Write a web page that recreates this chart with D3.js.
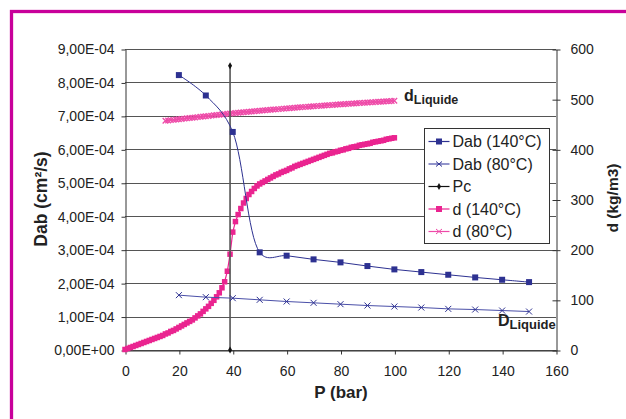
<!DOCTYPE html>
<html>
<head>
<meta charset="utf-8">
<script src="https://cdn.jsdelivr.net/npm/d3@7"></script>
<style>
  body { margin: 0; background: #fff; }
  svg { display: block; font-family: "Liberation Sans", Arial, sans-serif; }
  .axis text { font-size: 14px; fill: #222; }
  .axis path, .axis line { stroke: #333; }
</style>
</head>
<body>
<svg id="chart" width="626" height="419"></svg>
<script>
// pressure grid (bar) and values
var dabP = [20, 30, 40, 50, 60, 70, 80, 90, 100, 110, 120, 130, 140, 150]
var dab140 = [8.22e-4, 7.61e-4, 6.52e-4, 2.92e-4, 2.82e-4, 2.71e-4, 2.62e-4, 2.51e-4, 2.41e-4, 2.33e-4, 2.25e-4, 2.17e-4, 2.10e-4, 2.03e-4]
var dab80 = [1.64e-4, 1.58e-4, 1.55e-4, 1.50e-4, 1.45e-4, 1.41e-4, 1.37e-4, 1.33e-4, 1.30e-4, 1.27e-4, 1.23e-4, 1.21e-4, 1.18e-4, 1.15e-4]

var pcP = [39, 39]
var pcVal = [0, 8.5e-4]

var d140P = [0, 1, 2, 3, 4, 5, 6, 7, 8, 9, 10, 11, 12, 13, 14, 15, 16, 17, 18, 19, 20,
  21, 22, 23, 24, 25, 26, 27, 28, 29, 30, 31, 32, 33, 34, 35, 36, 37, 38, 39, 40,
  41, 42, 43, 44, 45, 46, 47, 48, 49, 50, 51, 52, 53, 54, 55, 56, 57, 58, 59, 60,
  61, 62, 63, 64, 65, 66, 67, 68, 69, 70, 71, 72, 73, 74, 75, 76, 77, 78, 79, 80,
  81, 82, 83, 84, 85, 86, 87, 88, 89, 90, 91, 92, 93, 94, 95, 96, 97, 98, 99, 100]
var d140 = [1, 3, 5, 7, 9, 11, 13, 15, 17, 19, 21, 23, 25, 27, 29, 32, 34, 37, 39, 42, 45,
  48, 51, 54, 57, 60, 64, 68, 72, 77, 82, 87, 93, 99, 106, 114, 124, 136, 157, 191, 235,
  256, 270, 282, 293, 302, 310, 316, 322, 327, 331, 334, 337, 340, 343, 346, 349, 351, 354, 356, 358,
  361, 363, 366, 368, 370, 372, 374, 376, 378, 380, 382, 384, 386, 388, 390, 392, 393, 395, 396, 398,
  399, 401, 402, 404, 405, 406, 408, 409, 410, 411, 412, 414, 415, 416, 417, 418, 420, 421, 422, 423]

var d80P = [15, 16, 17, 18, 19, 20, 21, 22, 23, 24, 25, 26, 27, 28, 29, 30, 31, 32, 33, 34, 35,
  36, 37, 38, 39, 40, 41, 42, 43, 44, 45, 46, 47, 48, 49, 50, 51, 52, 53, 54, 55,
  56, 57, 58, 59, 60, 61, 62, 63, 64, 65, 66, 67, 68, 69, 70, 71, 72, 73, 74, 75,
  76, 77, 78, 79, 80, 81, 82, 83, 84, 85, 86, 87, 88, 89, 90, 91, 92, 93, 94, 95,
  96, 97, 98, 99, 100]
var d80 = [457.0, 457.6, 458.2, 458.8, 459.4, 460.0, 460.6, 461.2, 461.8, 462.4, 463.0,
  463.6, 464.2, 464.8, 465.4, 466.0, 466.6, 467.2, 467.8, 468.4, 469.0,
  469.6, 470.2, 470.8, 471.4, 472.0, 472.5, 473.0, 473.5, 474.0, 474.5,
  475.0, 475.5, 476.0, 476.4, 476.9, 477.4, 477.9, 478.3, 478.8, 479.3,
  479.7, 480.2, 480.7, 481.1, 481.6, 482.0, 482.5, 482.9, 483.4, 483.8,
  484.2, 484.6, 485.0, 485.4, 485.8, 486.2, 486.6, 487.0, 487.4, 487.8,
  488.2, 488.5, 488.9, 489.3, 489.7, 490.0, 490.4, 490.8, 491.1, 491.5,
  491.9, 492.2, 492.6, 492.9, 493.3, 493.6, 494.0, 494.3, 494.7, 495.0,
  495.4, 495.7, 496.0, 496.4, 496.7]

var xTicks = [0, 20, 40, 60, 80, 100, 120, 140, 160]
var leftTicks = [0, 1e-4, 2e-4, 3e-4, 4e-4, 5e-4, 6e-4, 7e-4, 8e-4, 9e-4]
var rightTicks = [0, 100, 200, 300, 400, 500, 600]

var legendLabels = ["Dab (140°C)", "Dab (80°C)", "Pc", "d (140°C)", "d (80°C)"]

var navy = "#2d3191", pink = "#ea2490", pinkLight = "#ee4aa8", frameColor = "#c8009a"

var svg = d3.select("#chart")

// magenta frame, open on the right and bottom
svg.append("rect")
    .attr("x", 11.5).attr("y", 11.5)
    .attr("width", 800).attr("height", 600)
    .attr("fill", "none")
    .attr("stroke", frameColor)
    .attr("stroke-width", 3.3)

var x = d3.scaleLinear().domain([0, 160]).range([125, 556])
var yL = d3.scaleLinear().domain([0, 9e-4]).range([350, 49])
var yR = d3.scaleLinear().domain([0, 600]).range([350, 49])

function sciFmt(v) {
    var s = v.toExponential(2)            // "8.00e-4"
    var parts = s.split("e")
    var exp = parseInt(parts[1], 10)
    var sign = exp < 0 ? "-" : "+"
    var e = Math.abs(exp)
    return parts[0].replace(".", ",") + "E" + sign + (e < 10 ? "0" + e : e)
}

// gridlines at left axis ticks
svg.append("g")
    .selectAll("line")
    .data(leftTicks)
    .enter().append("line")
    .attr("x1", 125).attr("x2", 556)
    .attr("y1", function(d) { return Math.round(yL(d)) + 0.5 })
    .attr("y2", function(d) { return Math.round(yL(d)) + 0.5 })
    .attr("stroke", "#555")
    .attr("stroke-width", 1)

// axes
var gLeft = svg.append("g")
    .attr("class", "axis")
    .attr("transform", "translate(125.5,0.5)")
    .call(d3.axisLeft(yL).tickValues(leftTicks).tickFormat(sciFmt).tickSize(4).tickSizeOuter(0).tickPadding(7))

var gRight = svg.append("g")
    .attr("class", "axis")
    .attr("transform", "translate(556.5,0.5)")
    .call(d3.axisRight(yR).tickValues(rightTicks).tickSize(4).tickSizeOuter(0).tickPadding(10))
gRight.selectAll(".tick line").attr("x1", -4)

var gBottom = svg.append("g")
    .attr("class", "axis")
    .attr("transform", "translate(0.5,350.5)")
    .call(d3.axisBottom(x).tickValues(xTicks).tickSize(4).tickSizeOuter(0).tickPadding(12))

// axis titles
svg.append("text")
    .attr("x", 341).attr("y", 398)
    .attr("text-anchor", "middle")
    .style("font-size", "17px").style("font-weight", "bold").attr("fill", "#222")
    .text("P (bar)")

svg.append("text")
    .attr("transform", "translate(47,199) rotate(-90)")
    .attr("text-anchor", "middle")
    .style("font-size", "17.5px").style("font-weight", "bold").attr("fill", "#222")
    .text("Dab (cm²/s)")

svg.append("text")
    .attr("transform", "translate(618,198) rotate(-90)")
    .attr("text-anchor", "middle")
    .style("font-size", "15.5px").style("font-weight", "bold").attr("fill", "#222")
    .text("d (kg/m3)")

// series helpers
function rows(xs, ys) {
    return xs.map(function(p, i) { return [p, ys[i]] })
}
function squareMarkers(g, data, yScale, size, color) {
    g.selectAll(null).data(data).enter().append("rect")
        .attr("x", function(d) { return x(d[0]) - size / 2 })
        .attr("y", function(d) { return yScale(d[1]) - size / 2 })
        .attr("width", size).attr("height", size)
        .attr("fill", color)
}
function crossMarkers(g, data, yScale, size, color, width) {
    var h = size / 2
    g.selectAll(null).data(data).enter().append("path")
        .attr("d", function(d) {
            var cx = x(d[0]), cy = yScale(d[1])
            return "M" + (cx - h) + "," + (cy - h) + "L" + (cx + h) + "," + (cy + h) +
                   "M" + (cx - h) + "," + (cy + h) + "L" + (cx + h) + "," + (cy - h)
        })
        .attr("stroke", color).attr("stroke-width", width).attr("fill", "none")
}

var series = svg.append("g")

// d (80°C)
var d80Rows = rows(d80P, d80)
series.append("path")
    .datum(d80Rows)
    .attr("d", d3.line().x(function(d) { return x(d[0]) }).y(function(d) { return yR(d[1]) }))
    .attr("fill", "none").attr("stroke", pinkLight).attr("stroke-width", 1.2)
crossMarkers(series.append("g"), d80Rows, yR, 5.5, pinkLight, 1.3)

// d (140°C)
var d140Rows = rows(d140P, d140)
series.append("path")
    .datum(d140Rows)
    .attr("d", d3.line().x(function(d) { return x(d[0]) }).y(function(d) { return yR(d[1]) }))
    .attr("fill", "none").attr("stroke", pink).attr("stroke-width", 1.2)
squareMarkers(series.append("g"), d140Rows, yR, 5.5, pink)

// Pc
var pcRows = rows(pcP, pcVal)
series.append("path")
    .datum(pcRows)
    .attr("d", d3.line().x(function(d) { return x(d[0]) }).y(function(d) { return yL(d[1]) }))
    .attr("stroke", "#555").attr("stroke-width", 1.6)
series.append("g").selectAll(null).data(pcRows).enter().append("path")
    .attr("d", d3.symbol().type(d3.symbolDiamond).size(14))
    .attr("transform", function(d) { return "translate(" + x(d[0]) + "," + yL(d[1]) + ")" })
    .attr("fill", "#111")

// Dab (80°C)
var dab80Rows = rows(dabP, dab80)
series.append("path")
    .datum(dab80Rows)
    .attr("d", d3.line().x(function(d) { return x(d[0]) }).y(function(d) { return yL(d[1]) }))
    .attr("fill", "none").attr("stroke", "#4a4fa8").attr("stroke-width", 1)
crossMarkers(series.append("g"), dab80Rows, yL, 6, navy, 1)

// Dab (140°C), smoothed line as in the spreadsheet
var dab140Rows = rows(dabP, dab140)
series.append("path")
    .datum(dab140Rows)
    .attr("d", d3.line().curve(d3.curveCatmullRom.alpha(0.3))
        .x(function(d) { return x(d[0]) }).y(function(d) { return yL(d[1]) }))
    .attr("fill", "none").attr("stroke", navy).attr("stroke-width", 1)
squareMarkers(series.append("g"), dab140Rows, yL, 6, navy)

// in-plot labels
var lab1 = svg.append("text").attr("x", 404).attr("y", 101)
    .style("font-weight", "bold").attr("fill", "#222")
lab1.append("tspan").style("font-size", "16px").text("d")
lab1.append("tspan").style("font-size", "12.5px").attr("dy", 3).text("Liquide")

var lab2 = svg.append("text").attr("x", 498).attr("y", 326)
    .style("font-weight", "bold").attr("fill", "#222")
lab2.append("tspan").style("font-size", "16px").text("D")
lab2.append("tspan").style("font-size", "13px").attr("dy", 3).text("Liquide")

// legend
var legend = svg.append("g").attr("transform", "translate(424.5,128.5)")
legend.append("rect")
    .attr("width", 125).attr("height", 115)
    .attr("fill", "#fff").attr("stroke", "#333").attr("stroke-width", 1)

var legendColors = [navy, navy, "#111", pink, pinkLight]
legendLabels.forEach(function(label, i) {
    var cy = 13 + i * 22.5
    var row = legend.append("g").attr("transform", "translate(0," + cy + ")")
    row.append("line").attr("x1", 4).attr("x2", 25).attr("y1", 0).attr("y2", 0)
        .attr("stroke", i == 1 ? "#4a4fa8" : legendColors[i]).attr("stroke-width", 1.2)
    if (i == 0 || i == 3) {
        row.append("rect").attr("x", 11.5).attr("y", -3).attr("width", 6).attr("height", 6)
            .attr("fill", legendColors[i])
    } else if (i == 1 || i == 4) {
        row.append("path").attr("d", "M11.5,-2.5L17.5,2.5M11.5,2.5L17.5,-2.5")
            .attr("stroke", legendColors[i]).attr("stroke-width", 1)
    } else {
        row.append("path").attr("d", d3.symbol().type(d3.symbolDiamond).size(14))
            .attr("transform", "translate(14.5,0)").attr("fill", "#111")
    }
    row.append("text").attr("x", 28).attr("y", 5.5)
        .style("font-size", "16px").attr("fill", "#222")
        .text(label)
})
</script>
</body>
</html>
